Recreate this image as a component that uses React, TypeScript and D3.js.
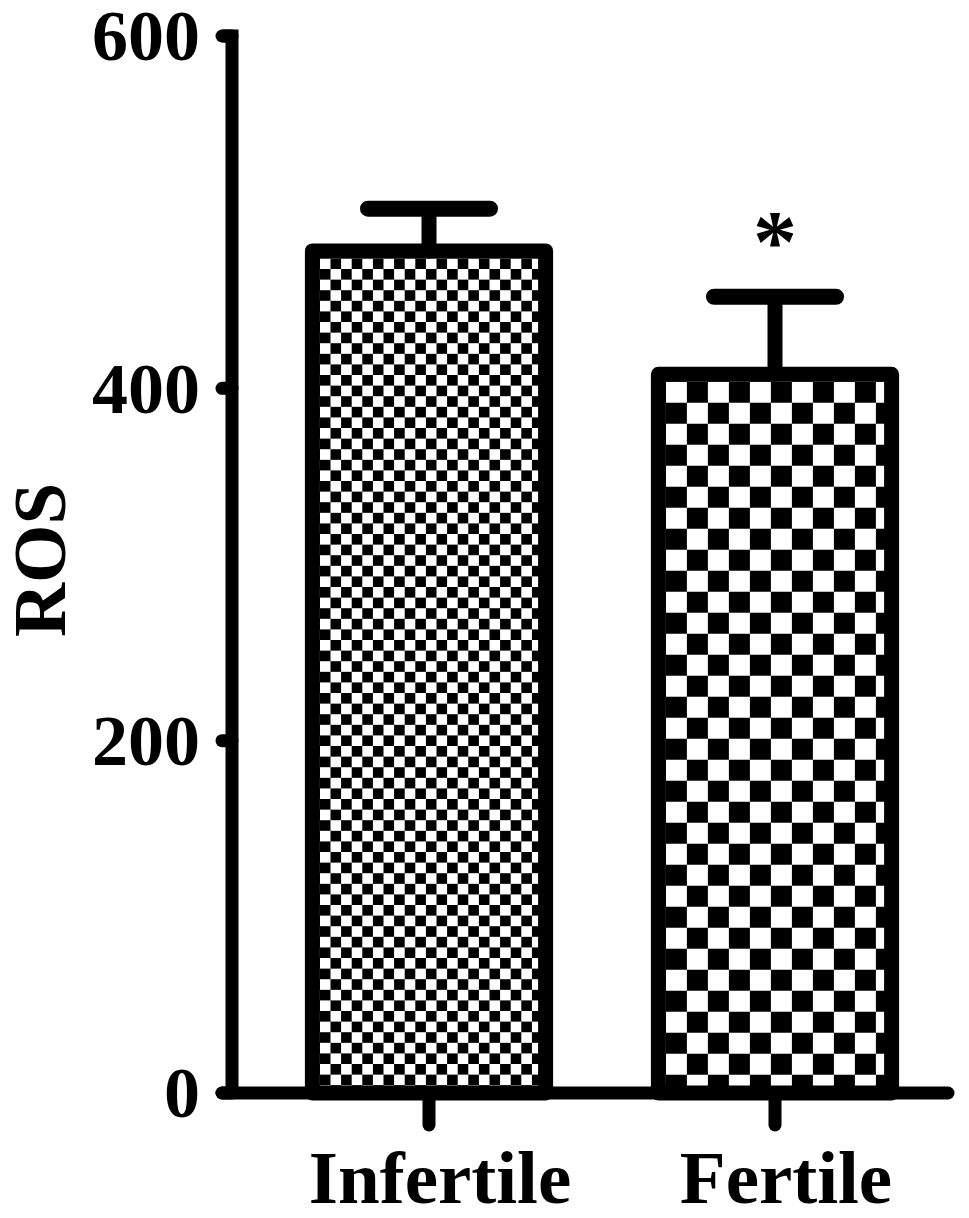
import React from 'react';
import * as d3 from 'd3';

const categories = ['Infertile', 'Fertile'];
const means = [478, 408];
const errors = [24, 44];
const significance = ['', '*'];
const yTicks = [0, 200, 400, 600];
const checkSizes = [10.6, 21];

const W = 969;
const H = 1218;
const FONT = '"Liberation Serif", "Times New Roman", serif';

export default function App() {
  const y = d3.scaleLinear().domain([0, 600]).range([1093, 36]);
  const x = d3
    .scaleBand()
    .domain(categories)
    .range([256, 948])
    .paddingInner(0.326)
    .paddingOuter(0.163);
  const axisX = 232;
  const bw = x.bandwidth();

  return (
    <svg
      width={W}
      height={H}
      style={{ position: 'absolute', left: 0, top: 0, background: '#fff' }}
    >
      <defs>
        {categories.map((c, i) => {
          const s = checkSizes[i];
          const x0 = (x(c) as number) + 7.5;
          return (
            <pattern
              key={c}
              id={`check-${i}`}
              patternUnits="userSpaceOnUse"
              width={s * 2}
              height={s * 2}
              x={x0}
              y={y(means[i]) + 7.5}
            >
              <rect width={s * 2} height={s * 2} fill="#fff" />
              <rect x={s} y={0} width={s} height={s} fill="#000" />
              <rect x={0} y={s} width={s} height={s} fill="#000" />
            </pattern>
          );
        })}
      </defs>

      {/* bars */}
      {categories.map((c, i) => (
        <rect
          key={c}
          x={x(c)}
          y={y(means[i])}
          width={bw}
          height={y(0) - y(means[i])}
          fill={`url(#check-${i})`}
          stroke="#000"
          strokeWidth={15}
          strokeLinejoin="round"
        />
      ))}

      {/* error bars */}
      {categories.map((c, i) => {
        const cx = (x(c) as number) + bw / 2;
        const top = y(means[i] + errors[i]);
        return (
          <g key={c} stroke="#000" strokeLinecap="round">
            <line x1={cx} x2={cx} y1={y(means[i])} y2={top} strokeWidth={15} />
            <line x1={cx - 61} x2={cx + 61} y1={top} y2={top} strokeWidth={16} />
          </g>
        );
      })}

      {/* significance */}
      {categories.map((c, i) =>
        significance[i] ? (
          <text
            key={c}
            x={(x(c) as number) + bw / 2}
            y={y(means[i] + errors[i]) - 26}
            textAnchor="middle"
            fontFamily={FONT}
            fontWeight="bold"
            fontSize={88}
          >
            {significance[i]}
          </text>
        ) : null
      )}

      {/* y axis */}
      <path
        d={`M${axisX - 10},${y(600)}H${axisX}V${y(0)}`}
        fill="none"
        stroke="#000"
        strokeWidth={13}
        strokeLinejoin="miter"
      />
      {yTicks.map((t) => (
        <g key={t}>
          <line
            x1={axisX - 10}
            x2={axisX}
            y1={y(t)}
            y2={y(t)}
            stroke="#000"
            strokeWidth={13}
            strokeLinecap="round"
          />
          <text
            x={200}
            y={y(t)}
            dy="0.34em"
            textAnchor="end"
            fontFamily={FONT}
            fontWeight="bold"
            fontSize={72}
          >
            {t}
          </text>
        </g>
      ))}

      {/* x axis */}
      <line
        x1={axisX - 10}
        x2={948}
        y1={y(0)}
        y2={y(0)}
        stroke="#000"
        strokeWidth={13}
        strokeLinecap="round"
      />
      {categories.map((c) => {
        const cx = (x(c) as number) + bw / 2;
        return (
          <g key={c}>
            <line
              x1={cx}
              x2={cx}
              y1={y(0)}
              y2={y(0) + 32}
              stroke="#000"
              strokeWidth={13}
              strokeLinecap="round"
            />
            <text
              x={cx + 11}
              y={1203}
              textAnchor="middle"
              fontFamily={FONT}
              fontWeight="bold"
              fontSize={75}
            >
              {c}
            </text>
          </g>
        );
      })}

      <text
        transform={`translate(65,560) rotate(-90)`}
        textAnchor="middle"
        fontFamily={FONT}
        fontWeight="bold"
        fontSize={75}
      >
        ROS
      </text>
    </svg>
  );
}
